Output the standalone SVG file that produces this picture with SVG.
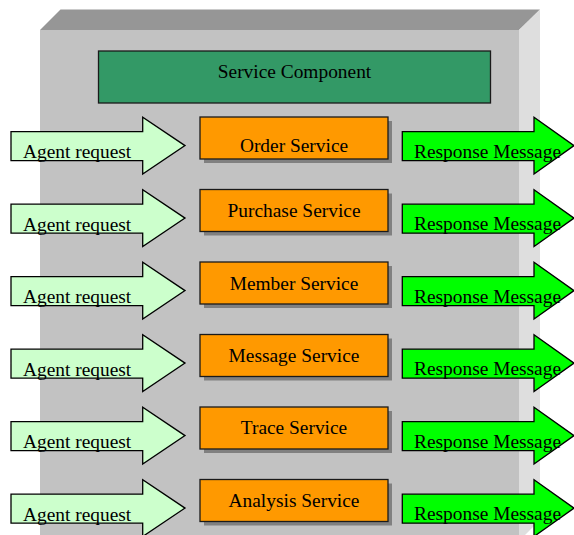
<svg xmlns="http://www.w3.org/2000/svg" width="574" height="535" viewBox="0 0 574 535">
  <style>
    text { font-family: "Liberation Serif", "Times New Roman", serif; font-size: 19.4px; fill: #000; }
    .svc { fill: #ff9900; stroke: #1a1a1a; stroke-width: 1.3; }
    .shadow { fill: #808080; }
    .req { fill: #ccffcc; stroke: #000; stroke-width: 1.3; stroke-linejoin: miter; }
    .resp { fill: #00ff00; stroke: #000; stroke-width: 1.3; stroke-linejoin: miter; }
    .mid { text-anchor: middle; }
  </style>
  <defs>
    <path id="reqArrow" d="M11,131.7 H142.7 V117.3 L185,145.6 L142.7,174 V160.7 H11 Z"/>
    <path id="respArrow" d="M402.3,131.7 H534 V117.3 L574,145.6 L534,174 V160.7 H402.3 Z"/>
    <g id="svcBox">
      <rect class="shadow" x="204" y="4" width="188" height="42"/>
      <rect class="svc" x="200" y="0" width="188" height="42"/>
    </g>
  </defs>

  <!-- container block: front, top and side faces -->
  <g id="container">
    <polygon points="40,30 60.5,9.5 540,9.5 519,30" fill="#969696"/>
    <polygon points="519,30 540,9.5 540,520 519,541" fill="#dedede"/>
    <rect x="40" y="30" width="479" height="511" fill="#c2c2c2"/>
  </g>

  <g id="service-component">
    <rect x="98.5" y="51" width="392" height="52" fill="#339966" stroke="#1a1a1a" stroke-width="1.3"/>
    <text class="mid" x="294.5" y="78">Service Component</text>
  </g>

  <!-- request / response arrows per service row -->
  <g id="connectors">
    <g transform="translate(0,0)">
      <use href="#reqArrow" class="req"/>
      <text x="23" y="158">Agent request</text>
      <use href="#respArrow" class="resp"/>
      <text x="414" y="157.5">Response Message</text>
    </g>
    <g transform="translate(0,72.5)">
      <use href="#reqArrow" class="req"/>
      <text x="23" y="158">Agent request</text>
      <use href="#respArrow" class="resp"/>
      <text x="414" y="157.5">Response Message</text>
    </g>
    <g transform="translate(0,145)">
      <use href="#reqArrow" class="req"/>
      <text x="23" y="158">Agent request</text>
      <use href="#respArrow" class="resp"/>
      <text x="414" y="157.5">Response Message</text>
    </g>
    <g transform="translate(0,217.5)">
      <use href="#reqArrow" class="req"/>
      <text x="23" y="158">Agent request</text>
      <use href="#respArrow" class="resp"/>
      <text x="414" y="157.5">Response Message</text>
    </g>
    <g transform="translate(0,290)">
      <use href="#reqArrow" class="req"/>
      <text x="23" y="158">Agent request</text>
      <use href="#respArrow" class="resp"/>
      <text x="414" y="157.5">Response Message</text>
    </g>
    <g transform="translate(0,362.5)">
      <use href="#reqArrow" class="req"/>
      <text x="23" y="158">Agent request</text>
      <use href="#respArrow" class="resp"/>
      <text x="414" y="157.5">Response Message</text>
    </g>
  </g>

  <g id="order-service" transform="translate(0,117)">
    <use href="#svcBox"/>
    <text class="mid" x="294" y="35">Order Service</text>
  </g>
  <g id="purchase-service" transform="translate(0,189.5)">
    <use href="#svcBox"/>
    <text class="mid" x="294" y="27.5">Purchase Service</text>
  </g>
  <g id="member-service" transform="translate(0,262)">
    <use href="#svcBox"/>
    <text class="mid" x="294" y="28">Member Service</text>
  </g>
  <g id="message-service" transform="translate(0,334.5)">
    <use href="#svcBox"/>
    <text class="mid" x="294" y="27.5">Message Service</text>
  </g>
  <g id="trace-service" transform="translate(0,407)">
    <use href="#svcBox"/>
    <text class="mid" x="294" y="26.5">Trace Service</text>
  </g>
  <g id="analysis-service" transform="translate(0,479.5)">
    <use href="#svcBox"/>
    <text class="mid" x="294" y="27">Analysis Service</text>
  </g>
</svg>
